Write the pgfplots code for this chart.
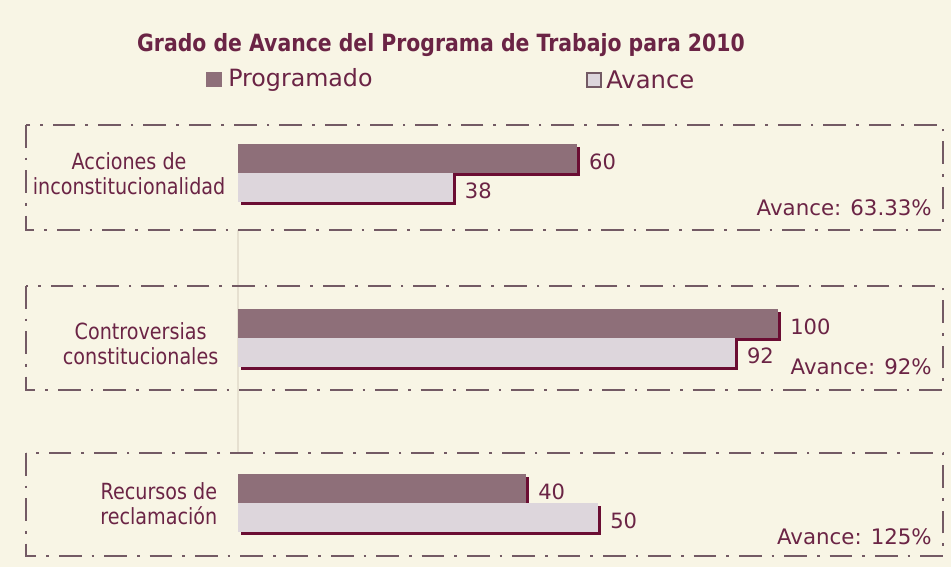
\documentclass[border=0pt]{standalone}
\usepackage{fontspec}
\setmainfont{DejaVu Sans}
\newfontfamily\condfont{DejaVu Sans}[FakeStretch=0.86]
\usepackage{pgfplots}
\pgfplotsset{compat=1.18}
\definecolor{bg}{HTML}{F8F5E5}
\definecolor{prog}{HTML}{8E6F79}
\definecolor{avan}{HTML}{DDD6DC}
\definecolor{shad}{HTML}{6B0D33}
\definecolor{txt}{HTML}{6B2445}
\definecolor{boxc}{HTML}{735A64}
\definecolor{faint}{HTML}{E6E0D0}
\pgfplotsset{
  grp/.style={anchor=south west, scale only axis, width=405pt, height=43.5pt,
    xmin=0, ymin=-0.5, ymax=1.5, hide axis, clip=false, bar width=21.75pt,
    /pgf/number format/assume math mode=true},
  sh/.style={xbar, bar shift=0pt, draw=none,
    preaction={fill=shad, transform canvas={shift={(2.6pt,-2.6pt)}}}},
  vals/.style={nodes near coords,
    every node near coord/.append style={font=\fontsize{15.8}{18}\selectfont, text=txt,
      anchor=west, inner sep=0pt, xshift=9pt, yshift=-2.5pt}},
}
\begin{document}
\begin{tikzpicture}[x=0.75pt,y=0.75pt]
\fill[bg] (0,0) rectangle (951,567);
\coordinate (g1) at (238,365);
\coordinate (g2) at (238,200);
\coordinate (g3) at (238,35);
% faint axis line
\draw[faint, line width=0.8pt] (238,567-230) -- (238,567-452);
% title
\node[font=\condfont\bfseries\fontsize{17.8}{21}\selectfont, text=txt] at (441,567-45) {Grado de Avance del Programa de Trabajo para 2010};
% legend
\fill[prog] (206,567-87) rectangle (222,567-72);
\node[anchor=west, font=\fontsize{17.8}{21}\selectfont, text=txt, inner sep=0pt] at (228,567-80) {Programado};
\filldraw[fill=avan, draw=boxc, line width=0.8pt] (587,567-87) rectangle (601,567-73);
\node[anchor=west, font=\fontsize{18.2}{21}\selectfont, text=txt, inner sep=0pt] at (606,567-80) {Avance};
% boxes
\begin{scope}[boxc, line width=1.5pt, dash pattern=on 17pt off 7.5pt on 2pt off 7.5pt]
\draw (26,567-125) rectangle (943,567-230);
\draw (26,567-286) rectangle (943,567-390);
\draw (26,567-453) rectangle (943,567-556);
\end{scope}
% category labels
\begin{scope}[every node/.style={anchor=east, align=center, text=txt, font=\condfont\fontsize{16.7}{19}\selectfont}]
\node at (230,567-174) {Acciones de\\inconstitucionalidad};
\node at (223,567-344) {Controversias\\constitucionales};
\node at (222,567-504) {Recursos de\\reclamación};
\end{scope}
% Avance notes
\begin{scope}[every node/.style={anchor=east, text=txt, font=\fontsize{16}{19}\selectfont, inner sep=0pt}]
\node at (932,567-208) {Avance: 63.33\%};
\node at (932,567-367) {Avance: 92\%};
\node at (932,567-537) {Avance: 125\%};
\end{scope}
% group 1
\begin{axis}[grp, at={(g1)}, xmax=95.6]
\addplot[sh, fill=prog, vals] coordinates {(60,1)};
\addplot[sh, fill=avan, vals] coordinates {(38,0)};
\end{axis}
% group 2
\begin{axis}[grp, at={(g2)}, xmax=100]
\addplot[sh, fill=prog, vals] coordinates {(100,1)};
\addplot[sh, fill=avan, vals] coordinates {(92,0)};
\end{axis}
% group 3
\begin{axis}[grp, at={(g3)}, xmax=75]
\addplot[sh, fill=prog, vals] coordinates {(40,1)};
\addplot[sh, fill=avan, vals] coordinates {(50,0)};
\end{axis}
\end{tikzpicture}
\end{document}
